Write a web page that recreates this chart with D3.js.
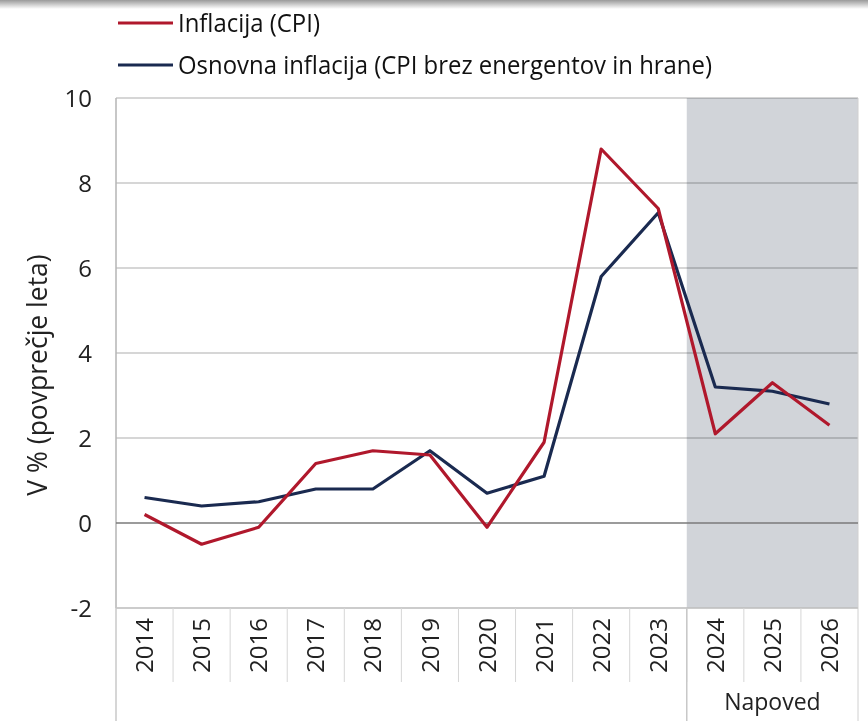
<!DOCTYPE html>
<html>
<head>
<meta charset="utf-8">
<script src="https://cdn.jsdelivr.net/npm/d3@7"></script>
<style>
  body { margin: 0; background: #fff; }
  svg { display: block; }
</style>
</head>
<body>
<div id="chart"></div>
<script>
// data
var years = ["2014","2015","2016","2017","2018","2019","2020","2021","2022","2023","2024","2025","2026"];
var cpi =  [0.2, -0.5, -0.1, 1.4, 1.7, 1.6, -0.1, 1.9, 8.8, 7.4, 2.1, 3.3, 2.3];
var core = [0.6, 0.4, 0.5, 0.8, 0.8, 1.7, 0.7, 1.1, 5.8, 7.3, 3.2, 3.1, 2.8];
var forecastYears = ["2024","2025","2026"];
var yTicks = [-2, 0, 2, 4, 6, 8, 10];
var seriesNames = ["Inflacija (CPI)", "Osnovna inflacija (CPI brez energentov in hrane)"];

var W = 868, H = 721;
var margin = {top: 98, right: 10, bottom: 113, left: 116};
var width = W - margin.left - margin.right,
    height = H - margin.top - margin.bottom;

var red = "#b0182c", navy = "#1a2a50";
var font = "'Open Sans', sans-serif";

var svg = d3.select("#chart").append("svg")
    .attr("width", W).attr("height", H);

// faint shadow at the top edge like the screenshot
var grad = svg.append("defs").append("linearGradient")
    .attr("id", "topShade").attr("x1", 0).attr("y1", 0).attr("x2", 0).attr("y2", 1);
grad.append("stop").attr("offset", "0%").attr("stop-color", "#9a9a9a");
grad.append("stop").attr("offset", "100%").attr("stop-color", "#ffffff");
svg.append("rect").attr("width", W).attr("height", 9).attr("fill", "url(#topShade)");

var g = svg.append("g")
    .attr("transform", "translate(" + margin.left + "," + margin.top + ")");

var x = d3.scaleBand().domain(years).range([0, width]);
var y = d3.scaleLinear().domain([-2, 10]).range([height, 0]);

// forecast shading
var fx0 = x(forecastYears[0]);
g.append("rect")
    .attr("x", fx0).attr("y", 0)
    .attr("width", width - fx0).attr("height", height)
    .attr("fill", "#d1d4d9");

// gridlines
g.append("g").selectAll("line")
    .data(yTicks.filter(function(d) { return d !== 0; }))
    .enter().append("line")
    .attr("x1", 0).attr("x2", width)
    .attr("y1", function(d) { return y(d); })
    .attr("y2", function(d) { return y(d); })
    .attr("stroke", "#c8c8c8").attr("stroke-width", 1.5)
    .style("mix-blend-mode", "multiply");

// y axis line + right edge
g.append("line").attr("x1", 0).attr("x2", 0).attr("y1", 0).attr("y2", height)
    .attr("stroke", "#b5b5b5").attr("stroke-width", 1.5);
g.append("line").attr("x1", width).attr("x2", width).attr("y1", 0).attr("y2", H - margin.top)
    .attr("stroke", "#d0d0d0").attr("stroke-width", 1);

// y tick labels
g.append("g").selectAll("text")
    .data(yTicks).enter().append("text")
    .attr("x", -24)
    .attr("y", function(d) { return y(d); })
    .attr("dy", "0.36em")
    .attr("text-anchor", "end")
    .style("font-family", font)
    .style("font-size", "24px")
    .attr("fill", "#222")
    .text(function(d) { return d; });

// y title
svg.append("text")
    .attr("transform", "translate(47,375) rotate(-90)")
    .attr("text-anchor", "middle")
    .style("font-family", font)
    .style("font-size", "26.5px")
    .attr("fill", "#222")
    .text("V % (povprečje leta)");

// category separators below the plot
var xa = g.append("g").attr("transform", "translate(0," + height + ")");
xa.append("line").attr("x1", 0).attr("x2", width).attr("y1", 0).attr("y2", 0)
    .attr("stroke", "#c8c8c8").attr("stroke-width", 1.5);
xa.selectAll(".sep")
    .data(years.slice(1)).enter().append("line")
    .attr("class", "sep")
    .attr("x1", function(d) { return x(d); })
    .attr("x2", function(d) { return x(d); })
    .attr("y1", 0).attr("y2", 74)
    .attr("stroke", "#d6d6d6").attr("stroke-width", 1);
xa.append("line").attr("x1", 0).attr("x2", 0).attr("y1", 0).attr("y2", margin.bottom)
    .attr("stroke", "#c8c8c8").attr("stroke-width", 1.5);
xa.append("line").attr("x1", fx0).attr("x2", fx0).attr("y1", 0).attr("y2", margin.bottom)
    .attr("stroke", "#c8c8c8").attr("stroke-width", 1.5);

// year labels, rotated
xa.selectAll(".yr")
    .data(years).enter().append("text")
    .attr("class", "yr")
    .attr("transform", function(d) {
      return "translate(" + (x(d) + x.bandwidth() / 2) + ",10) rotate(-90)";
    })
    .attr("text-anchor", "end")
    .attr("dy", "0.36em")
    .style("font-family", font)
    .style("font-size", "24px")
    .attr("fill", "#222")
    .text(function(d) { return d; });

xa.append("text")
    .attr("x", (fx0 + width) / 2)
    .attr("y", 102)
    .attr("text-anchor", "middle")
    .style("font-family", font)
    .style("font-size", "23px")
    .attr("fill", "#222")
    .text("Napoved");

// zero line
g.append("line").attr("x1", 0).attr("x2", width)
    .attr("y1", y(0)).attr("y2", y(0))
    .attr("stroke", "#7a7a7a").attr("stroke-width", 1.5);

// lines
var line = d3.line()
    .x(function(d, i) { return x(years[i]) + x.bandwidth() / 2; })
    .y(function(d) { return y(d); });

g.append("path").datum(core)
    .attr("d", line).attr("fill", "none")
    .attr("stroke", navy).attr("stroke-width", 3.2)
    .attr("stroke-linejoin", "round");
g.append("path").datum(cpi)
    .attr("d", line).attr("fill", "none")
    .attr("stroke", red).attr("stroke-width", 3.2)
    .attr("stroke-linejoin", "round");

// legend
var leg = svg.append("g").selectAll("g").data(seriesNames).enter().append("g")
    .attr("transform", function(d, i) { return "translate(118," + (23 + i * 42) + ")"; });
leg.append("line").attr("x1", 0).attr("x2", 55).attr("y1", 0).attr("y2", 0)
    .attr("stroke", function(d, i) { return i === 0 ? red : navy; })
    .attr("stroke-width", 3.2);
leg.append("text")
    .attr("transform", "translate(60,0) scale(0.92,1)")
    .attr("dy", "0.36em")
    .style("font-family", font)
    .style("font-size", "26px")
    .attr("fill", "#111")
    .text(function(d) { return d; });
</script>
</body>
</html>
